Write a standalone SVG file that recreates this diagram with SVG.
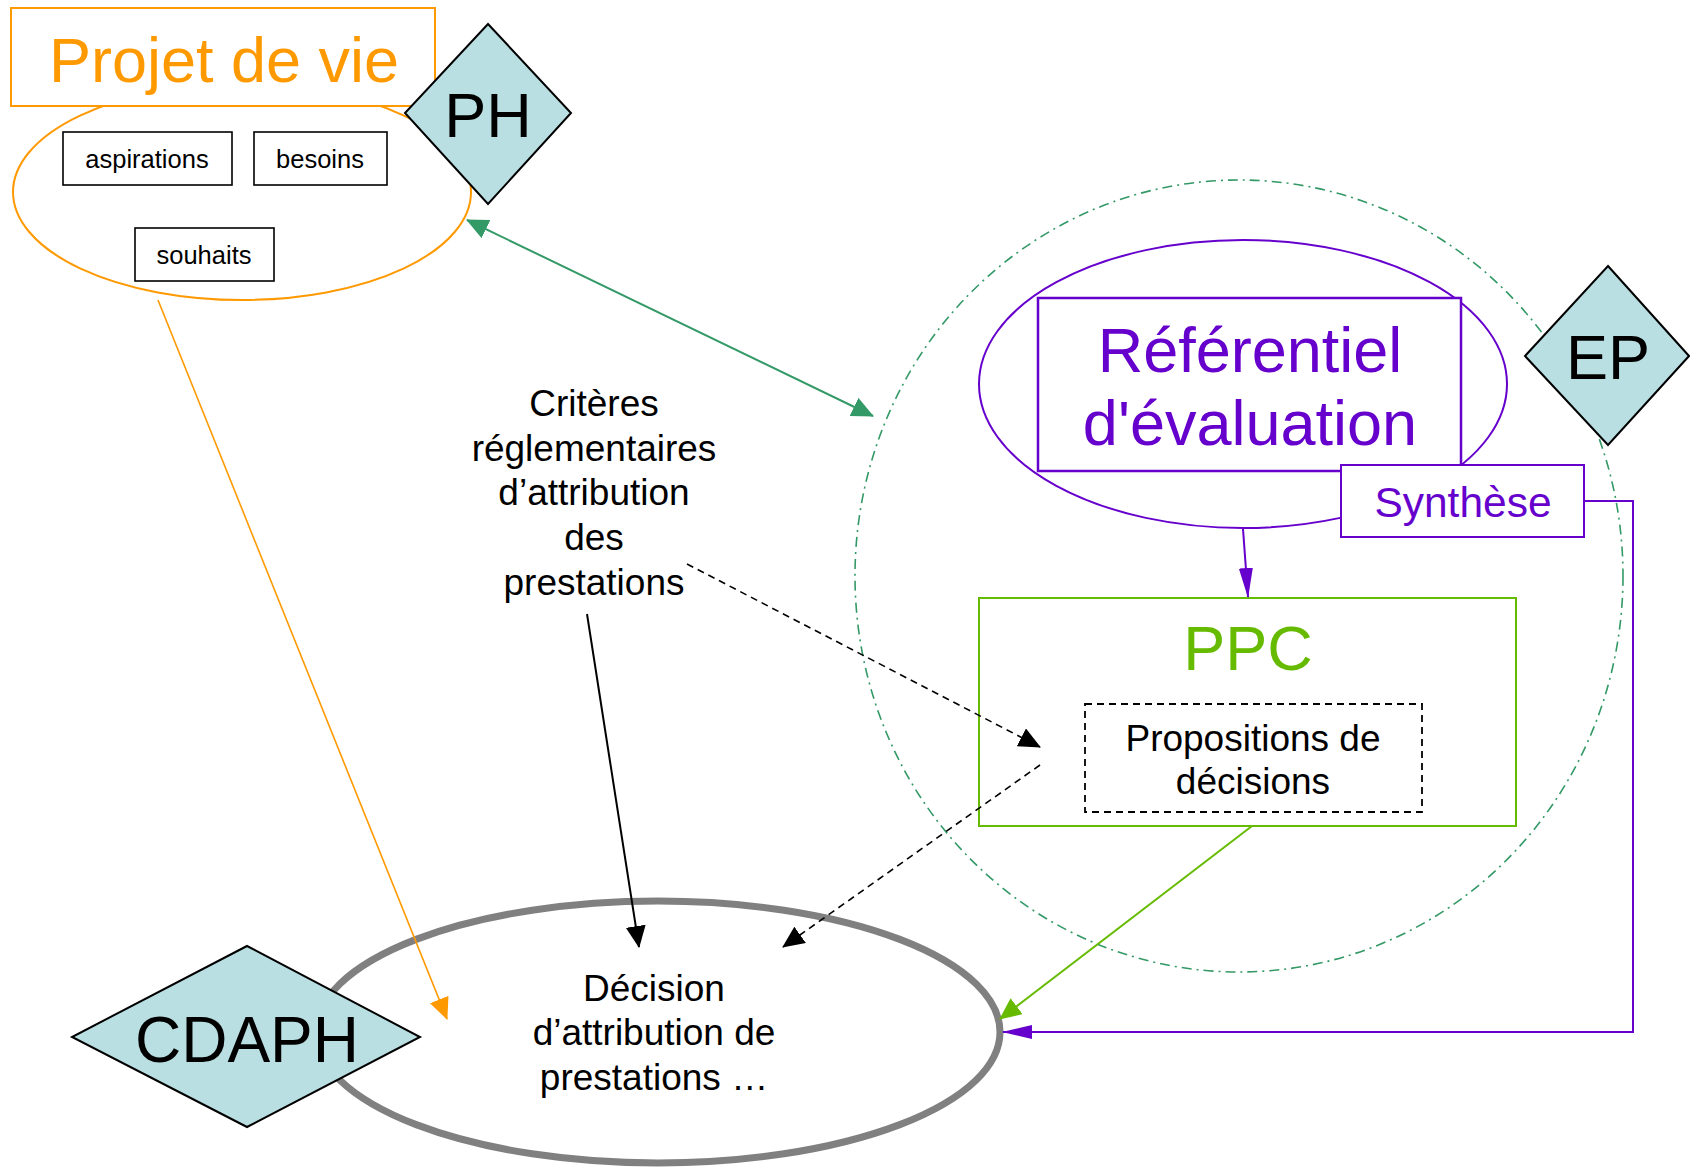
<svg xmlns="http://www.w3.org/2000/svg" width="1690" height="1167" viewBox="0 0 1690 1167">
<style>
text{font-family:"Liberation Sans",Arial,sans-serif;text-anchor:middle}
.diam{fill:#B9DFE2;stroke:#000;stroke-width:2}
.box{fill:#fff;stroke:#000;stroke-width:1.6}
.small{font-size:25.5px;fill:#000}
.mid{font-size:37px;fill:#000}
.big{font-size:63px}
</style>
<defs>
<marker id="ag" viewBox="0 0 22 20" refX="21" refY="10" markerWidth="22" markerHeight="20" markerUnits="userSpaceOnUse" orient="auto-start-reverse"><path d="M0,0 L22,10 L0,20 z" fill="#339966"/></marker>
<marker id="ao" viewBox="0 0 22 20" refX="21" refY="10" markerWidth="22" markerHeight="20" markerUnits="userSpaceOnUse" orient="auto"><path d="M0,0 L22,10 L0,20 z" fill="#FF9900"/></marker>
<marker id="ak" viewBox="0 0 22 20" refX="21" refY="10" markerWidth="22" markerHeight="20" markerUnits="userSpaceOnUse" orient="auto"><path d="M0,0 L22,10 L0,20 z" fill="#000"/></marker>
<marker id="ay" viewBox="0 0 22 20" refX="21" refY="10" markerWidth="22" markerHeight="20" markerUnits="userSpaceOnUse" orient="auto"><path d="M0,0 L22,10 L0,20 z" fill="#66BB00"/></marker>
<marker id="ap" viewBox="0 0 30 14" refX="29" refY="7" markerWidth="30" markerHeight="14" markerUnits="userSpaceOnUse" orient="auto"><path d="M0,0 L30,7 L0,14 z" fill="#6600CC"/></marker>
</defs>

<g id="decision">
<ellipse cx="658" cy="1032" rx="342" ry="131" fill="#fff" stroke="#808080" stroke-width="7"/>
<text class="mid" x="654" y="1001">Décision</text>
<text class="mid" x="654" y="1045">d’attribution de</text>
<text class="mid" x="654" y="1090">prestations …</text>
</g>

<g id="cdaph">
<polygon class="diam" points="247,946 420,1037 247,1127 72,1037"/>
<text x="247" y="1062" font-size="64" fill="#000">CDAPH</text>
</g>

<g id="ep-zone">
<ellipse cx="1239" cy="576" rx="384" ry="396" fill="none" stroke="#339966" stroke-width="1.6" stroke-dasharray="10 5 2 5"/>
</g>

<g id="referentiel">
<ellipse cx="1243" cy="384" rx="264" ry="144" fill="#fff" stroke="#6600CC" stroke-width="2"/>
<rect x="1038" y="298" width="423" height="173" fill="#fff" stroke="#6600CC" stroke-width="2.5"/>
<text class="big" x="1250" y="372" fill="#6600CC">Référentiel</text>
<text class="big" x="1250" y="445" fill="#6600CC">d'évaluation</text>
</g>

<g id="synthese">
<rect x="1341" y="465" width="243" height="72" fill="#fff" stroke="#6600CC" stroke-width="2"/>
<text x="1463" y="517" font-size="42.5" fill="#6600CC">Synthèse</text>
</g>

<g id="ep">
<polygon class="diam" points="1608,266 1689,356 1608,445 1525,356"/>
<text x="1608" y="379" font-size="63" fill="#000">EP</text>
</g>

<g id="ppc">
<rect x="979" y="598" width="537" height="228" fill="#fff" stroke="#66BB00" stroke-width="2"/>
<text class="big" x="1248" y="670" fill="#66BB00">PPC</text>
</g>

<g id="propositions">
<rect x="1085" y="704" width="337" height="108" fill="#fff" stroke="#000" stroke-width="1.8" stroke-dasharray="7 5"/>
<text class="mid" x="1253" y="751">Propositions de</text>
<text class="mid" x="1253" y="794">décisions</text>
</g>

<g id="criteres">
<text class="mid" x="594" y="416">Critères</text>
<text class="mid" x="594" y="461">réglementaires</text>
<text class="mid" x="594" y="505">d’attribution</text>
<text class="mid" x="594" y="550">des</text>
<text class="mid" x="594" y="595">prestations</text>
</g>

<g id="projet">
<ellipse cx="242" cy="192" rx="229" ry="108" fill="#fff" stroke="#FF9900" stroke-width="2"/>
<rect x="11" y="8" width="424" height="98" fill="#fff" stroke="#FF9900" stroke-width="2"/>
<text class="big" x="224" y="82" fill="#FF9900">Projet de vie</text>
</g>

<g id="aspirations">
<rect class="box" x="63" y="132" width="169" height="53"/>
<text class="small" x="147" y="168">aspirations</text>
</g>
<g id="besoins">
<rect class="box" x="254" y="132" width="133" height="53"/>
<text class="small" x="320" y="168">besoins</text>
</g>
<g id="souhaits">
<rect class="box" x="135" y="228" width="139" height="53"/>
<text class="small" x="204" y="264">souhaits</text>
</g>

<g id="ph">
<polygon class="diam" points="488,24 571,113 488,204 405,113"/>
<text x="488" y="137" font-size="63" fill="#000">PH</text>
</g>

<g id="connectors" fill="none">
<line x1="467" y1="220" x2="873" y2="416" stroke="#339966" stroke-width="2" marker-start="url(#ag)" marker-end="url(#ag)"/>
<line x1="158" y1="300" x2="447" y2="1019" stroke="#FF9900" stroke-width="1.6" marker-end="url(#ao)"/>
<line x1="587" y1="614" x2="639" y2="947" stroke="#000" stroke-width="2" marker-end="url(#ak)"/>
<line x1="687" y1="564" x2="1040" y2="747" stroke="#000" stroke-width="1.6" stroke-dasharray="7 5" marker-end="url(#ak)"/>
<line x1="1040" y1="765" x2="783" y2="947" stroke="#000" stroke-width="1.6" stroke-dasharray="7 5" marker-end="url(#ak)"/>
<line x1="1252" y1="826" x2="1000" y2="1019" stroke="#66BB00" stroke-width="2" marker-end="url(#ay)"/>
<line x1="1243" y1="529" x2="1248" y2="597" stroke="#6600CC" stroke-width="2" marker-end="url(#ap)"/>
<polyline points="1584,501 1633,501 1633,1032 1003,1032" stroke="#6600CC" stroke-width="2" marker-end="url(#ap)"/>
</g>
</svg>
